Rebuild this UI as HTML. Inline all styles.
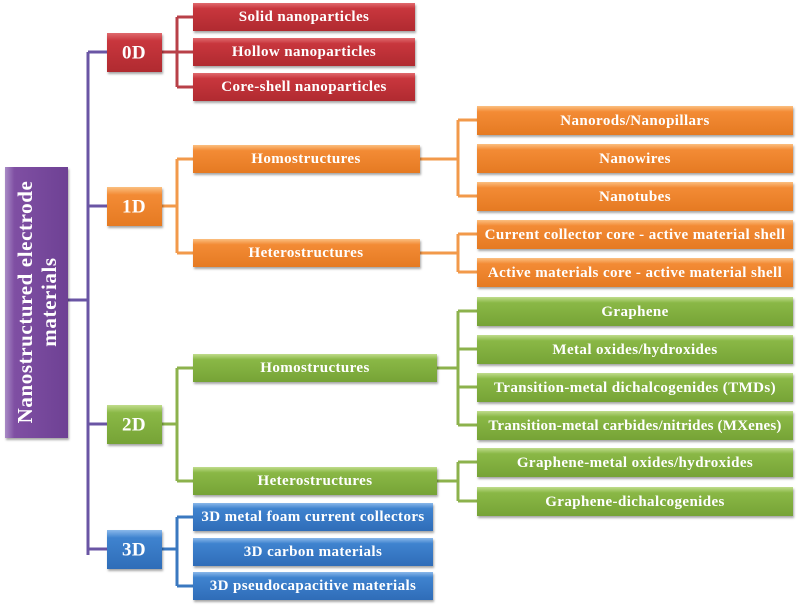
<!DOCTYPE html>
<html><head><meta charset="utf-8"><style>
html,body{margin:0;padding:0;background:#fff;width:800px;height:610px;overflow:hidden}
text{font-family:"Liberation Serif",serif;font-weight:bold;fill:#fff;text-anchor:middle;dominant-baseline:central}
</style></head><body>
<svg width="800" height="610" xmlns="http://www.w3.org/2000/svg">
<defs>
<linearGradient id="r" x1="0" y1="0" x2="0" y2="1"><stop offset="0" stop-color="#e06a6e"/><stop offset="0.2" stop-color="#c8363d"/><stop offset="1" stop-color="#b02a30"/></linearGradient>
<linearGradient id="o" x1="0" y1="0" x2="0" y2="1"><stop offset="0" stop-color="#fbbf80"/><stop offset="0.2" stop-color="#f38b35"/><stop offset="1" stop-color="#e57a22"/></linearGradient>
<linearGradient id="g" x1="0" y1="0" x2="0" y2="1"><stop offset="0" stop-color="#c0dc8c"/><stop offset="0.2" stop-color="#8ab846"/><stop offset="1" stop-color="#76a336"/></linearGradient>
<linearGradient id="b" x1="0" y1="0" x2="0" y2="1"><stop offset="0" stop-color="#8ab8ea"/><stop offset="0.2" stop-color="#3f83cf"/><stop offset="1" stop-color="#2f6db8"/></linearGradient>
<linearGradient id="p" x1="0" y1="0" x2="1" y2="0"><stop offset="0" stop-color="#a98bc6"/><stop offset="0.15" stop-color="#7f4fa3"/><stop offset="1" stop-color="#6e4194"/></linearGradient>
</defs>
<g fill="none" stroke-width="3">
<path d="M88 52 V555 M88 52 H107 M88 206 H107 M88 424 H107 M88 549 H107 M68 300 H88" stroke="#6a55a4"/>
<path d="M162 52 H193 M177 17 V87 M177 17 H193 M177 87 H193" stroke="#b84048"/>
<path d="M162 206 H177 M177 159 V253 M177 159 H193 M177 253 H193 M420 159 H458 M458 120 V196 M458 120 H477 M458 196 H477 M420 253 H458 M458 234 V272 M458 234 H477 M458 272 H477" stroke="#f2994a"/>
<path d="M162 424 H177 M177 368 V481 M177 368 H193 M177 481 H193 M437 368 H458 M458 311 V425 M458 311 H477 M458 349 H477 M458 387 H477 M458 425 H477 M437 481 H458 M458 462 V501 M458 462 H477 M458 501 H477" stroke="#8cb24c"/>
<path d="M162 549 H177 M177 517 V586 M177 517 H193 M177 586 H193" stroke="#3a78c0"/>
</g>
<g style="filter:drop-shadow(1px 2px 1px rgba(0,0,0,0.35))">
<rect x="5" y="167" width="63" height="271" fill="url(#p)"/>
<rect x="107" y="33" width="55" height="39" fill="url(#r)"/>
<rect x="107" y="187" width="55" height="39" fill="url(#o)"/>
<rect x="107" y="405" width="55" height="39" fill="url(#g)"/>
<rect x="107" y="530" width="55" height="39" fill="url(#b)"/>
<rect x="193" y="3" width="222" height="28" fill="url(#r)"/>
<rect x="193" y="38" width="222" height="28" fill="url(#r)"/>
<rect x="193" y="73" width="222" height="28" fill="url(#r)"/>
<rect x="193" y="145" width="227" height="28" fill="url(#o)"/>
<rect x="193" y="239" width="227" height="28" fill="url(#o)"/>
<rect x="477" y="106" width="316" height="29" fill="url(#o)"/>
<rect x="477" y="144" width="316" height="29" fill="url(#o)"/>
<rect x="477" y="182" width="316" height="29" fill="url(#o)"/>
<rect x="477" y="220" width="316" height="29" fill="url(#o)"/>
<rect x="477" y="258" width="316" height="29" fill="url(#o)"/>
<rect x="193" y="354" width="244" height="28" fill="url(#g)"/>
<rect x="193" y="467" width="244" height="28" fill="url(#g)"/>
<rect x="477" y="297" width="316" height="29" fill="url(#g)"/>
<rect x="477" y="335" width="316" height="29" fill="url(#g)"/>
<rect x="477" y="373" width="316" height="29" fill="url(#g)"/>
<rect x="477" y="411" width="316" height="29" fill="url(#g)"/>
<rect x="477" y="448" width="316" height="29" fill="url(#g)"/>
<rect x="477" y="487" width="316" height="29" fill="url(#g)"/>
<rect x="193" y="503" width="240" height="28" fill="url(#b)"/>
<rect x="193" y="538" width="240" height="28" fill="url(#b)"/>
<rect x="193" y="572" width="240" height="28" fill="url(#b)"/>
</g>
<g font-size="15" letter-spacing="0.4">
<text x="36" y="302" font-size="21" letter-spacing="0.6" transform="rotate(-90 36 302)"><tspan x="36" dy="-11">Nanostructured electrode</tspan><tspan x="36" dy="24">materials</tspan></text>
<text x="134" y="53" font-size="19">0D</text>
<text x="134" y="207" font-size="19">1D</text>
<text x="134" y="425" font-size="19">2D</text>
<text x="134" y="550" font-size="19">3D</text>
<text x="304" y="17">Solid nanoparticles</text>
<text x="304" y="52">Hollow nanoparticles</text>
<text x="304" y="87">Core-shell nanoparticles</text>
<text x="306" y="159">Homostructures</text>
<text x="306" y="253">Heterostructures</text>
<text x="635" y="121">Nanorods/Nanopillars</text>
<text x="635" y="159">Nanowires</text>
<text x="635" y="197">Nanotubes</text>
<text x="635" y="235">Current collector core - active material shell</text>
<text x="635" y="273">Active materials core - active material shell</text>
<text x="315" y="368">Homostructures</text>
<text x="315" y="481">Heterostructures</text>
<text x="635" y="312">Graphene</text>
<text x="635" y="350">Metal oxides/hydroxides</text>
<text x="635" y="388">Transition-metal dichalcogenides (TMDs)</text>
<text x="635" y="426" letter-spacing="0.2">Transition-metal carbides/nitrides (MXenes)</text>
<text x="635" y="463">Graphene-metal oxides/hydroxides</text>
<text x="635" y="502">Graphene-dichalcogenides</text>
<text x="313" y="517">3D metal foam current collectors</text>
<text x="313" y="552">3D carbon materials</text>
<text x="313" y="586">3D pseudocapacitive materials</text>
</g>
</svg>
</body></html>
